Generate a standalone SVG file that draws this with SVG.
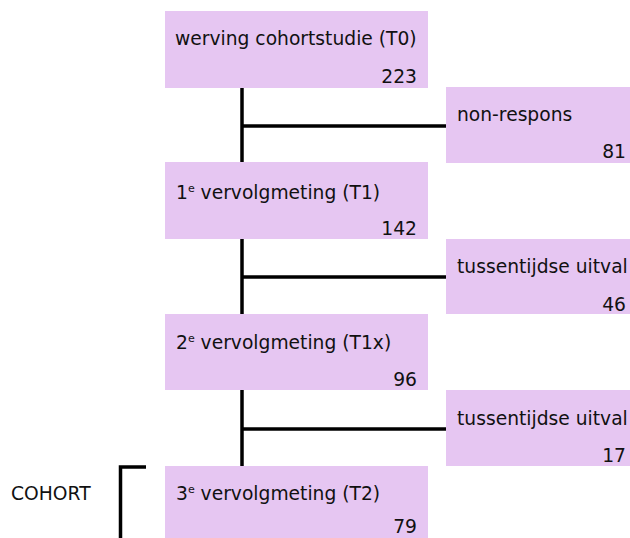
<svg xmlns="http://www.w3.org/2000/svg" width="630" height="538" viewBox="0 0 630 538">
<style>
.box{fill:#E6C6F2}
.t{font-family:"DejaVu Sans",Verdana,sans-serif;font-size:18.7px;fill:#111}
.n{font-family:"DejaVu Sans",Verdana,sans-serif;font-size:18.7px;fill:#111;text-anchor:end}
.sup{font-size:11px}
.ln{stroke:#000;stroke-width:3.5;fill:none}
</style>
<rect width="630" height="538" fill="#fff"/>
<g id="connectors">
<line class="ln" x1="242" y1="88" x2="242" y2="466"/>
<line class="ln" x1="242" y1="126" x2="446" y2="126"/>
<line class="ln" x1="242" y1="277" x2="446" y2="277"/>
<line class="ln" x1="242" y1="429" x2="446" y2="429"/>
<path class="ln" d="M146 467 H120.5 V538"/>
</g>
<g id="node-t0">
<rect class="box" x="165" y="11" width="263" height="77"/>
<text class="t" x="175" y="45">werving cohortstudie (T0)</text>
<text class="n" x="417" y="83">223</text>
</g>
<g id="node-nonrespons">
<rect class="box" x="446" y="87" width="184" height="76"/>
<text class="t" x="457" y="121">non-respons</text>
<text class="n" x="626" y="158">81</text>
</g>
<g id="node-t1">
<rect class="box" x="165" y="162" width="263" height="77"/>
<text class="t" x="176" y="199">1<tspan class="sup" dy="-7">e</tspan><tspan dy="7"> vervolgmeting (T1)</tspan></text>
<text class="n" x="417" y="235">142</text>
</g>
<g id="node-uitval1">
<rect class="box" x="446" y="239" width="184" height="75"/>
<text class="t" x="457" y="273">tussentijdse uitval</text>
<text class="n" x="626" y="311">46</text>
</g>
<g id="node-t1x">
<rect class="box" x="165" y="314" width="263" height="76"/>
<text class="t" x="176" y="349">2<tspan class="sup" dy="-7">e</tspan><tspan dy="7"> vervolgmeting (T1x)</tspan></text>
<text class="n" x="417" y="386">96</text>
</g>
<g id="node-uitval2">
<rect class="box" x="446" y="390" width="184" height="76"/>
<text class="t" x="457" y="425">tussentijdse uitval</text>
<text class="n" x="626" y="462">17</text>
</g>
<g id="node-t2">
<rect class="box" x="165" y="466" width="263" height="80"/>
<text class="t" x="176" y="500">3<tspan class="sup" dy="-7">e</tspan><tspan dy="7"> vervolgmeting (T2)</tspan></text>
<text class="n" x="417" y="533">79</text>
</g>
<g id="label-cohort">
<text class="t" x="11" y="500">COHORT</text>
</g>
</svg>
